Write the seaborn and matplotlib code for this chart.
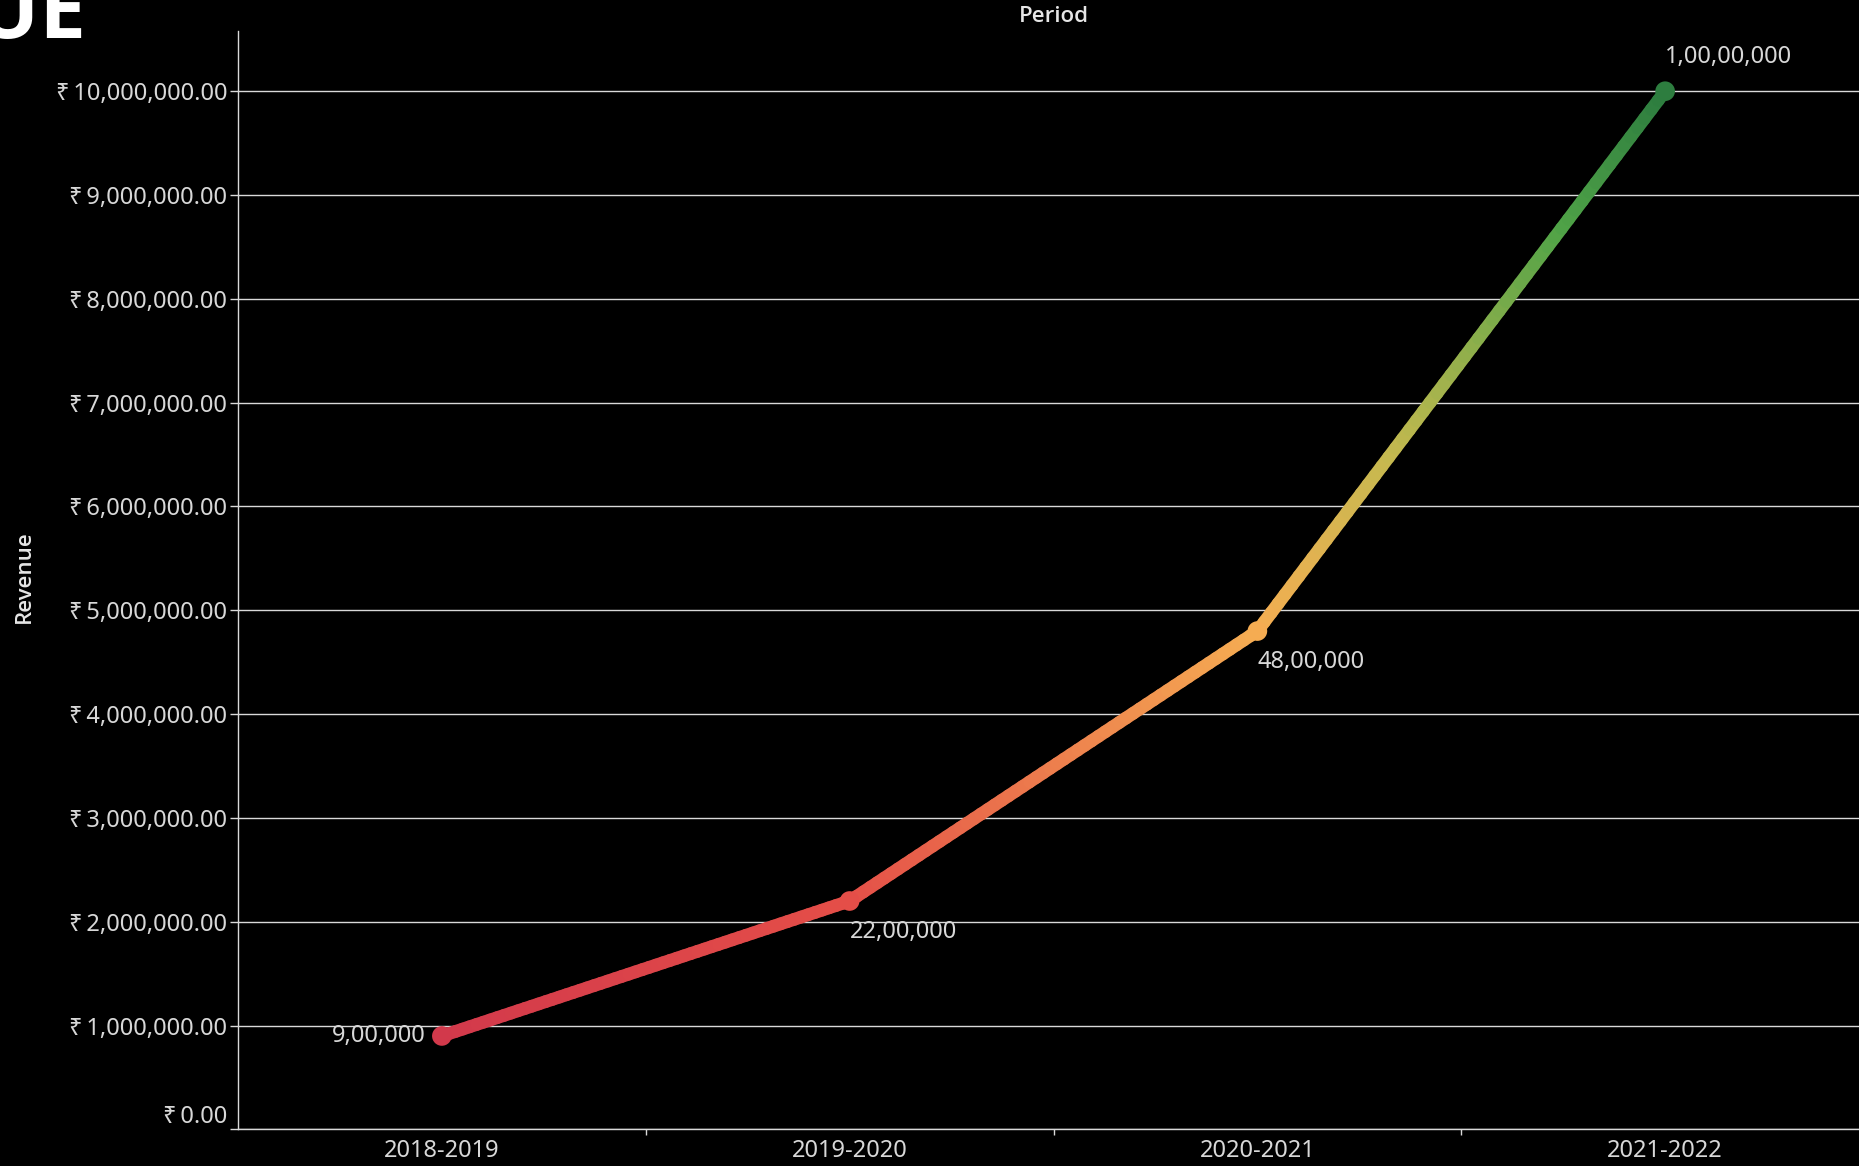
import numpy as np
import pandas as pd
import matplotlib
matplotlib.use("Agg")
import matplotlib.pyplot as plt
import seaborn as sns
from matplotlib.collections import LineCollection
from matplotlib.colors import LinearSegmentedColormap, Normalize
from matplotlib.ticker import FuncFormatter, FixedLocator

# ---- data -------------------------------------------------------------
periods = ["2018-2019", "2019-2020", "2020-2021", "2021-2022"]
revenue = [900000, 2200000, 4800000, 10000000]
value_labels = ["9,00,000", "22,00,000", "48,00,000", "1,00,00,000"]
y_ticks = [0, 1000000, 2000000, 3000000, 4000000, 5000000,
           6000000, 7000000, 8000000, 9000000, 10000000]

# red -> orange -> green colour ramp driven by revenue
ramp_stops = [0.0, 0.14, 0.43, 0.62, 0.86, 1.0]
ramp_colors = ["#d2394b", "#e44e48", "#f5ad52", "#c5b94f", "#50a347", "#2d7d3f"]

# ---- style ------------------------------------------------------------
sns.set_style("dark", {"axes.facecolor": "black", "figure.facecolor": "black",
                       "axes.edgecolor": "#d9d9d9", "grid.color": "#d9d9d9"})
plt.rcParams["font.family"] = ["Noto Sans", "DejaVu Sans"]
BOLD_FAMILY = ["Open Sans", "Lato", "DejaVu Sans"]

TXT = "#d8d8d8"
LINE = "#d9d9d9"

W, H = 1859, 1166
fig = plt.figure(figsize=(W / 100, H / 100), dpi=100, facecolor="black")
ax = fig.add_axes([238 / W, (H - 1129.4) / H, 1631 / W, 1098.4 / H])
ax.set_facecolor("black")

df = pd.DataFrame({"Period": periods, "Revenue": revenue})
df["pos"] = np.arange(len(periods))

cmap = LinearSegmentedColormap.from_list("rev", list(zip(ramp_stops, ramp_colors)))
norm = Normalize(vmin=min(revenue), vmax=max(revenue))

# gradient line: each straight segment is split into short pieces so the
# colour can follow the revenue level along it
xs = df["pos"].to_numpy(dtype=float)
ys = df["Revenue"].to_numpy(dtype=float)
pieces, piece_vals = [], []
for i in range(len(xs) - 1):
    t = np.linspace(0.0, 1.0, 60)
    px = xs[i] + (xs[i + 1] - xs[i]) * t
    py = ys[i] + (ys[i + 1] - ys[i]) * t
    pts = np.column_stack([px, py])
    pieces.extend(np.stack([pts[:-1], pts[1:]], axis=1))
    piece_vals.extend((py[:-1] + py[1:]) / 2)
lc = LineCollection(pieces, cmap=cmap, norm=norm, linewidths=9.2,
                    capstyle="round", joinstyle="round", zorder=3)
lc.set_array(np.asarray(piece_vals))
ax.add_collection(lc)

sns.scatterplot(data=df, x="pos", y="Revenue", hue="Revenue", palette=cmap,
                hue_norm=norm, s=200, linewidth=0, legend=False, zorder=4, ax=ax)

# value labels
label_offsets = [(-11.5, 0, "right"), (0, -22, "left"), (0, -22, "left"), (0, 24.5, "left")]
for x, y, txt, (dx, dy, ha) in zip(xs, ys, value_labels, label_offsets):
    ax.annotate(txt, (x, y), xytext=(dx, dy), textcoords="offset points",
                ha=ha, va="center", fontsize=17, color=TXT, zorder=5)

# ---- axes -------------------------------------------------------------
ax.set_xlim(-0.5, len(periods) - 0.5)
ax.set_ylim(0, 10.58e6)

ax.yaxis.set_major_locator(FixedLocator(y_ticks))
ax.yaxis.set_major_formatter(FuncFormatter(lambda v, _: f"\u20b9\u2009{v:,.2f}"))
ax.tick_params(axis="y", length=5.8, width=1.0, color=LINE, pad=2,
               labelsize=17, labelcolor=TXT, left=True)

ax.set_xticks(df["pos"], labels=periods)
ax.set_xticks(df["pos"][:-1] + 0.5, minor=True)
ax.tick_params(axis="x", which="major", length=0, pad=7, labelsize=17, labelcolor=TXT)
ax.tick_params(axis="x", which="minor", length=4.5, width=1.0, color=LINE, bottom=True)

ax.yaxis.grid(True, color=LINE, linewidth=1.0)
ax.xaxis.grid(False)
ax.set_axisbelow(True)
for side in ("top", "right"):
    ax.spines[side].set_visible(False)
for side in ("left", "bottom"):
    ax.spines[side].set_visible(True)
    ax.spines[side].set_color(LINE)
    ax.spines[side].set_linewidth(1.0)

ax.set_xlabel("")
ax.set_ylabel("")

# the zero label sits just above the baseline
ax.yaxis.get_major_ticks()[0].label1.set_verticalalignment("bottom")

fig.text(24 / W, 1 - 577 / H, "Revenue", rotation=90, ha="center", va="center",
         fontsize=16, fontweight="semibold", color="#e6e6e6", family=BOLD_FAMILY)
fig.text(1054 / W, 1 - 17 / H, "Period", ha="center", va="center",
         fontsize=16, fontweight="semibold", color="#e6e6e6", family=BOLD_FAMILY)
fig.text(86 / W, 1 - 38 / H, "REVENUE", ha="right", va="baseline",
         fontsize=60, fontweight="bold", color="white", family=BOLD_FAMILY)

fig.savefig("out.png", dpi=100, facecolor="black")
